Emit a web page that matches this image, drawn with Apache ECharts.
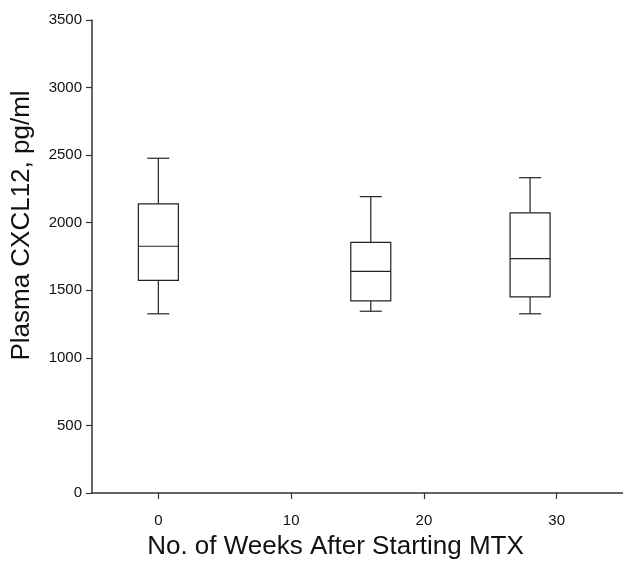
<!DOCTYPE html>
<html>
<head>
<meta charset="utf-8">
<script src="https://cdn.jsdelivr.net/npm/echarts@6/dist/echarts.min.js"></script>
<style>
  html, body { margin: 0; padding: 0; background: #fff; }
  #chart { width: 623px; height: 565px; }
</style>
</head>
<body>
<div id="chart"></div>
<script>
// weeks after starting MTX and box statistics (pg/ml)
const weeks   = [0, 16, 28];
const mins    = [1326, 1345, 1326];
const q1s     = [1573, 1422, 1451];
const medians = [1826, 1640, 1735];
const q3s     = [2139, 1855, 2073];
const maxs    = [2477, 2193, 2333];

const xTicks = [0, 10, 20, 30];

const boxRows = weeks.map(function (w, i) {
    return [w, mins[i], q1s[i], medians[i], q3s[i], maxs[i]];
});

const BOX_HALF = 20;   // px
const CAP_HALF = 11;   // px
const LINE = { stroke: '#222', lineWidth: 1.2, fill: null };

function renderBox(params, api) {
    const x = api.value(0);
    const pMin = api.coord([x, api.value(1)]);
    const pQ1 = api.coord([x, api.value(2)]);
    const pMed = api.coord([x, api.value(3)]);
    const pQ3 = api.coord([x, api.value(4)]);
    const pMax = api.coord([x, api.value(5)]);
    const cx = pMed[0];

    function line(x1, y1, x2, y2) {
        return { type: 'line', shape: { x1: x1, y1: y1, x2: x2, y2: y2 }, style: LINE };
    }

    return {
        type: 'group',
        children: [
            line(cx, pMax[1], cx, pQ3[1]),
            line(cx - CAP_HALF, pMax[1], cx + CAP_HALF, pMax[1]),
            line(cx, pQ1[1], cx, pMin[1]),
            line(cx - CAP_HALF, pMin[1], cx + CAP_HALF, pMin[1]),
            {
                type: 'rect',
                shape: { x: cx - BOX_HALF, y: pQ3[1], width: BOX_HALF * 2, height: pQ1[1] - pQ3[1] },
                style: { stroke: '#222', lineWidth: 1.2, fill: '#fff' }
            },
            line(cx - BOX_HALF, pMed[1], cx + BOX_HALF, pMed[1])
        ]
    };
}

const myChart = echarts.init(document.getElementById('chart'));

const tickFont = { fontFamily: 'Liberation Sans Narrow, Liberation Sans, Arial, sans-serif', fontSize: 15, color: '#111' };

const option = {
    animation: false,
    backgroundColor: '#fff',
    grid: { left: 92, top: 20, width: 532, bottom: 71, containLabel: false },
    xAxis: {
        type: 'value',
        min: -5,
        max: 35,
        name: 'No. of Weeks After Starting MTX',
        nameLocation: 'middle',
        nameGap: 41,
        nameTextStyle: { fontFamily: 'Liberation Sans', fontSize: 26, color: '#111', padding: [0, 44, 0, 0] },
        axisLine: { show: true, onZero: false, lineStyle: { color: '#333', width: 1.5 } },
        axisTick: { show: true, inside: false, length: 6, customValues: xTicks, lineStyle: { color: '#333', width: 1.2 } },
        axisLabel: Object.assign({ customValues: xTicks, margin: 20, formatter: function (v) { return String(v); } }, tickFont),
        splitLine: { show: false }
    },
    yAxis: {
        type: 'value',
        min: 0,
        max: 3500,
        interval: 500,
        name: 'Plasma CXCL12, pg/ml',
        nameLocation: 'middle',
        nameGap: 57,
        nameTextStyle: { fontFamily: 'Liberation Sans', fontSize: 26, color: '#111', padding: [0, 0, 0, 62] },
        axisLine: { show: true, onZero: false, lineStyle: { color: '#333', width: 1.5 } },
        axisTick: { show: true, inside: false, length: 6, lineStyle: { color: '#333', width: 1.2 } },
        axisLabel: Object.assign({ margin: 10, formatter: function (v) { return String(v); } }, tickFont),
        splitLine: { show: false }
    },
    series: [{
        type: 'custom',
        renderItem: renderBox,
        encode: { x: 0, y: [1, 2, 3, 4, 5] },
        data: boxRows,
        clip: false
    }]
};

myChart.setOption(option);
</script>
</body>
</html>
